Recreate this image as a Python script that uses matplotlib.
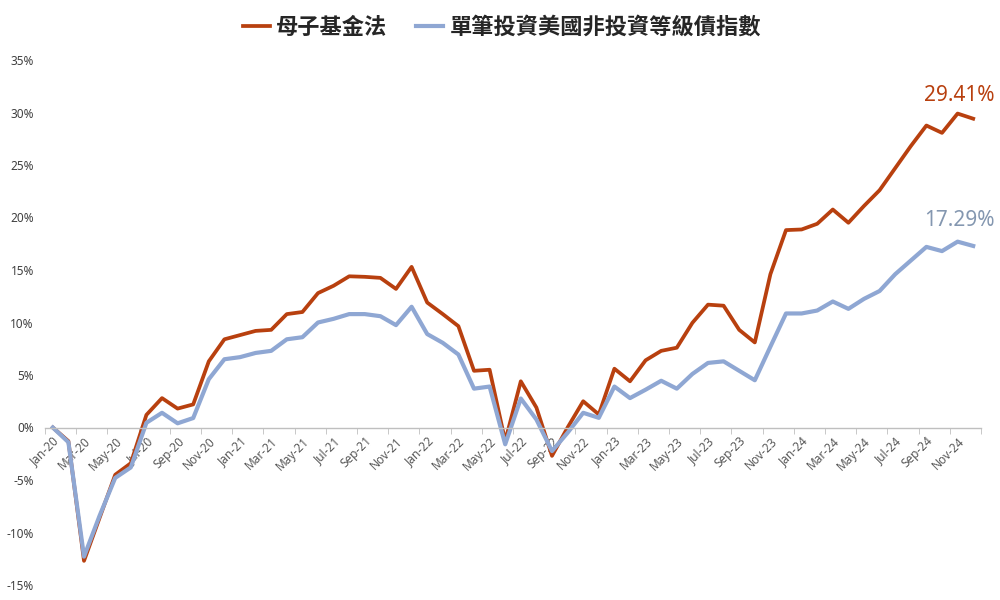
import matplotlib
matplotlib.use("Agg")
import matplotlib.pyplot as plt
import numpy as np

plt.rcParams['font.family'] = ['Noto Sans', 'Noto Sans CJK TC', 'DejaVu Sans']

# monthly cumulative return (%), Jan-20 .. Dec-24
months = ['Jan', 'Feb', 'Mar', 'Apr', 'May', 'Jun', 'Jul', 'Aug', 'Sep', 'Oct', 'Nov', 'Dec']
years = ['20', '21', '22', '23', '24']
dates = [f"{m}-{y}" for y in years for m in months]

fund_of_funds = [0, -1.3, -12.7, -8.6, -4.5, -3.4, 1.2, 2.8, 1.8, 2.2, 6.3, 8.4,
                 8.8, 9.2, 9.3, 10.8, 11.0, 12.8, 13.5, 14.4, 14.35, 14.25, 13.2, 15.3,
                 11.9, 10.8, 9.65, 5.4, 5.5, -1.3, 4.4, 1.9, -2.7, 0.0, 2.5, 1.24,
                 5.6, 4.4, 6.4, 7.3, 7.6, 9.97, 11.7, 11.6, 9.3, 8.1, 14.6, 18.8,
                 18.86, 19.4, 20.76, 19.5, 21.1, 22.6, 24.7, 26.8, 28.76, 28.06, 29.9, 29.41]

hy_index = [0, -1.4, -12.3, -8.4, -4.8, -3.8, 0.45, 1.4, 0.4, 0.9, 4.6, 6.5,
            6.7, 7.1, 7.3, 8.4, 8.6, 10.0, 10.35, 10.8, 10.8, 10.6, 9.75, 11.5,
            8.9, 8.06, 6.95, 3.7, 3.9, -1.6, 2.76, 0.76, -2.25, -0.5, 1.4, 0.92,
            3.9, 2.8, 3.6, 4.45, 3.7, 5.1, 6.15, 6.3, 5.4, 4.5, 7.7, 10.86,
            10.86, 11.14, 12.0, 11.3, 12.25, 13.0, 14.6, 15.9, 17.2, 16.8, 17.7, 17.29]

series_names = ['母子基金法', '單筆投資美國非投資等級債指數']
end_labels = ['29.41%', '17.29%']

red = '#B8400F'
blue = '#8FA7D3'

fig = plt.figure(figsize=(10, 6), dpi=100)
ax = fig.add_axes([0.045, 0.025, 0.936, 0.875])

x = np.arange(len(dates))
ax.plot(x, fund_of_funds, color=red, lw=2.7, solid_joinstyle='round', label=series_names[0])
ax.plot(x, hy_index, color=blue, lw=3.0, solid_joinstyle='round', label=series_names[1])

ax.set_xlim(-0.5, len(dates) - 0.5)
ax.set_ylim(-15, 35)

# y axis
ax.set_yticks(np.arange(-15, 36, 5))
ax.set_yticklabels([f"{v}%" for v in range(-15, 36, 5)], fontsize=8.5, color='#404040')
ax.tick_params(axis='y', length=0, pad=8)

# x axis sits at zero
for s in ['top', 'right', 'left']:
    ax.spines[s].set_visible(False)
ax.spines['bottom'].set_position(('data', 0))
ax.spines['bottom'].set_color('#BFBFBF')
ax.spines['bottom'].set_linewidth(1.0)

ax.set_xticks(x[::2])
ax.set_xticklabels(dates[::2], rotation=45, ha='right', rotation_mode='anchor',
                   fontsize=8.5, color='#595959')
ax.tick_params(axis='x', which='major', length=0, pad=5)
ax.set_xticks(np.arange(-0.5, len(dates), 2), minor=True)
ax.tick_params(axis='x', which='minor', length=4, color='#BFBFBF', direction='out')

# end value labels
ax.annotate(end_labels[0], (x[-1], fund_of_funds[-1]), xytext=(-10, 17), textcoords='offset points',
            ha='center', va='center', fontsize=15, color=red, annotation_clip=False)
ax.annotate(end_labels[1], (x[-1], hy_index[-1]), xytext=(-10, 18.5), textcoords='offset points',
            ha='center', va='center', fontsize=15, color='#8497B0', annotation_clip=False)

leg = fig.legend(loc='center', bbox_to_anchor=(0.502, 0.955), ncol=2, frameon=False,
                 handlelength=1.2, handletextpad=0.3, columnspacing=1.3,
                 prop={'family': ['Noto Sans CJK TC', 'DejaVu Sans'], 'size': 16, 'weight': 'bold'})
for t in leg.get_texts():
    t.set_color('#262626')

fig.savefig('out.png', dpi=100)
